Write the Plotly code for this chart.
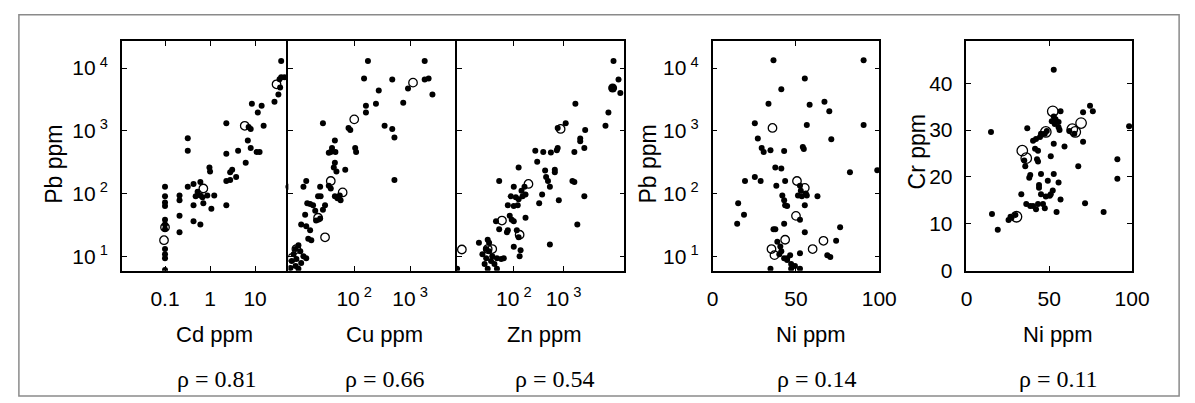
import plotly.graph_objects as go

W, H = 1195, 403

# ---- Pb vs Cd ----
cd_ppm = [38, 38, 45, 35, 36, 33, 27, 8.5, 14, 11.5, 7.2, 8, 15.5, 2.3, 6.9, 4.2, 8, 10.8, 12.6, 6.2,
          0.32, 0.32, 0.97, 1.0, 3.1, 2.8, 2.3, 2.8, 3.8, 0.32, 0.43, 0.61, 0.53, 0.61, 0.48, 0.68, 0.87,
          1.24, 0.43, 0.71, 1.07, 2.3, 0.43, 0.61, 0.21, 0.21, 0.21, 0.21, 0.1, 0.1, 0.1, 0.1, 0.1, 0.1,
          0.1, 0.1, 0.1, 0.1, 0.1, 55, 2.3]
pb_vs_cd = [12900, 7100, 7100, 6600, 4900, 3800, 2900, 2700, 2500, 1950, 1150, 1070, 1200, 1320, 700,
            480, 530, 460, 460, 310, 760, 480, 260, 225, 240, 218, 158, 164, 183, 128, 142, 153, 107, 93,
            90, 87, 93, 93, 65, 70, 57, 65, 36, 32, 93, 78, 44, 24, 128, 90, 72, 63, 38, 32, 27, 13, 10.7,
            9.3, 6, 128, 430]
cd_open = [30, 5.9, 0.71, 0.1, 0.095]
pb_vs_cd_open = [5500, 1200, 120, 29, 18]

# ---- Pb vs Cu ----
cu_ppm = [176, 1830, 150, 480, 1830, 2150, 920, 275, 2520, 162, 162, 245, 755, 79, 85, 27.5, 350, 480,
          525, 104, 108, 45, 40, 38, 35, 46, 45, 43, 48, 69, 525, 35, 38, 13.8, 12.3, 24.5, 22.5, 25, 45,
          50, 55, 57, 30, 27.5, 14.4, 16.2, 18.3, 13.2, 20.7, 24.5, 11.2, 13.8, 16.2, 15, 17, 20,
          10, 8.9, 10.8, 8.2, 12.3, 9.2, 7.6, 11.2, 8.9, 10, 7.2, 13.8]
pb_vs_cu = [12900, 12900, 6800, 6550, 6550, 6800, 4700, 4400, 3800, 2500, 1950, 2700, 2800, 1110, 1030,
            1320, 1200, 1070, 780, 530, 460, 700, 530, 460, 445, 460, 310, 260, 225, 240, 164, 133, 120,
            158, 128, 128, 90, 90, 90, 84, 93, 78, 65, 55, 70, 68, 65, 46, 37, 40, 32, 30, 26, 19, 18, 53,
            15, 13, 12, 10.7, 10, 9, 8.4, 7.8, 7, 6.3, 6.5, 9.3]
cu_open = [1130, 100, 38, 62, 22.5, 30, 9.2, 7.6]
pb_vs_cu_open = [5850, 1520, 158, 104, 41, 20, 13, 9.3]

# ---- Pb vs Zn ----
zn_ppm = [10000, 12600, 13700, 7900, 6900, 1720, 1100, 760, 2700, 2150, 2150, 2600, 1640, 760, 730, 555,
          390, 270, 295, 425, 665, 665, 445, 485, 530, 1500, 1640, 125, 51, 164, 143, 172, 150, 100, 87,
          110, 125, 370, 323, 800, 2600, 76, 100, 120, 83, 172, 44, 51, 91, 100, 76, 73, 115, 125, 100,
          137, 131, 530, 1880, 20, 30, 32,
          28, 32, 23.5, 37, 28, 46, 35, 26, 41, 56, 30, 46, 63, 7.3]
pb_vs_zn = [12900, 6550, 4000, 1950, 1200, 2700, 1320, 1110, 1030, 750, 680, 530, 460, 530, 490, 450,
            460, 480, 320, 232, 240, 218, 183, 158, 128, 158, 153, 260, 158, 128, 111, 96, 90, 128, 90,
            87, 81, 96, 70, 78, 90, 65, 63, 65, 44, 41, 36, 27, 38, 36, 26, 24, 26, 20, 14.2, 12.4, 10,
            15.3, 32, 16.4, 18.3, 16.4,
            13, 12, 10.7, 10, 9.3, 9.3, 8.4, 7.5, 7.5, 9, 6.3, 6.3, 9.3, 6.3]
zn_big = [9600]
pb_vs_zn_big = [4800]
zn_open = [870, 197, 58, 131, 9.1, 30, 37]
pb_vs_zn_open = [1070, 142, 37, 22, 12.8, 13, 13]

# ---- Pb vs Ni ----
ni_ppm = [36.5, 90.6, 55.3, 41.2, 33.5, 58.2, 67.1, 70, 25.3, 56.5, 90.6, 27.1, 71.2, 29.4, 30.6, 34.7,
          42.9, 54.1, 54.7, 37.6, 41.2, 82.4, 98.8, 19.4, 25.3, 28.8, 43.5, 38.2, 52.4, 52.9, 55.9, 51.2,
          53.5, 56.5, 41.8, 42.9, 43.5, 44.7, 62.9, 55.3, 15.3, 18.8, 14.7, 52.4, 42.9, 36.5, 37.6, 55.3,
          76.5, 38.8, 40.6, 41.2, 40, 42.9, 44.7, 74.1, 68.8, 70.6, 46.5, 47.1, 52.4, 34.7, 47.1, 49.4,
          52.4, 44.7]
pb_vs_ni = [13300, 13300, 6800, 4600, 2700, 2600, 2900, 2040, 1320, 1230, 1230, 750, 730, 530, 460, 490,
            475, 550, 510, 260, 250, 218, 235, 158, 183, 158, 158, 133, 133, 111, 100, 93, 90, 93, 93, 78,
            65, 63, 90, 65, 70, 46, 33, 38, 33, 27, 27, 24, 29, 17, 14.3, 12, 10.7, 9.3, 8.7, 17.6, 10.4,
            9.7, 10.4, 7.5, 11.1, 6.3, 6.3, 7.0, 6.3, 9.3]
ni_open = [35.9, 50.6, 55.3, 50, 43.5, 35.3, 37.1, 60, 66.5]
pb_vs_ni_open = [1110, 158, 123, 44, 18.3, 13, 10.4, 13, 17.6]

# ---- Cr vs Ni ----
ni_ppm_cr = [52.7, 14.8, 98.2, 74.6, 76.3, 70.4, 62.1, 65.1, 52.7, 53.8, 51.5, 55.6, 53.3, 56.8, 55.6,
             56.2, 48.5, 47.3, 45, 44.4, 42, 40.2, 36.7, 52.7, 59.2, 70.4, 34.9, 35.5, 41.4, 43.2, 42.6,
             43.2, 50.9, 67.5, 91.1, 91.1, 45, 38.5, 37.9, 52.7, 49.1, 55.6, 43.8, 43.8, 52.1, 50.9, 50.3,
             47.9, 33.1, 45, 36.1, 38.5, 40.2, 43.2, 46.2, 47.3, 42, 56.8, 71.6, 54.4, 82.8, 15.4, 18.9,
             25.4, 27.2, 29.6, 26.6]
cr_ppm = [42.9, 29.6, 30.8, 35.2, 34.0, 33.8, 29.8, 29.2, 32.9, 32.3, 31.9, 31.7, 31.3, 34.0, 30.6, 30,
          29.8, 29.2, 29.2, 28.5, 28.1, 27.7, 30.4, 27.1, 26.5, 27.5, 23.5, 22.3, 26, 25.6, 23.8, 23.3,
          24.4, 22.3, 23.8, 19.6, 20.6, 20.4, 19.8, 20.6, 19.2, 18.8, 18.3, 17.7, 17.1, 16.3, 16, 15.8,
          16.3, 16.3, 14.2, 13.8, 13.8, 14.2, 14.2, 13.3, 13.1, 15.2, 14.4, 12.5, 12.5, 12.1, 8.75, 10.8,
          11.3, 11.9, 11.5]
ni_open_cr = [69.2, 63.9, 65.7, 52.1, 47.9, 33.7, 36.1, 30.2]
cr_open = [31.5, 30.2, 29.6, 34.0, 29.6, 25.6, 24, 11.5]

rho_labels = ["ρ = 0.81", "ρ = 0.66", "ρ = 0.54", "ρ = 0.14", "ρ = 0.11"]
x_titles = ["Cd ppm", "Cu ppm", "Zn ppm", "Ni ppm", "Ni ppm"]
pow_ticks = [10, 100, 1000, 10000]
pow_text = ["10<sup> 1</sup>", "10<sup> 2</sup>", "10<sup> 3</sup>", "10<sup> 4</sup>"]

SANS = "Liberation Sans, Arial, sans-serif"
SERIF = "Liberation Serif, Times New Roman, serif"


def px_x(a, b):
    return [a / W, b / W]


def px_y(top, bottom):
    return [1 - bottom / H, 1 - top / H]


def dots(x, y, xa, ya, size=6):
    return go.Scatter(x=x, y=y, xaxis=xa, yaxis=ya, mode="markers",
                      marker=dict(color="black", size=size, line=dict(width=0)),
                      hoverinfo="skip")


def rings(x, y, xa, ya, size=8.5):
    return go.Scatter(x=x, y=y, xaxis=xa, yaxis=ya, mode="markers",
                      marker=dict(symbol="circle-open", color="black", size=size,
                                  line=dict(width=1.3, color="black")),
                      hoverinfo="skip")


fig = go.Figure()
fig.add_trace(dots(cd_ppm, pb_vs_cd, "x", "y"))
fig.add_trace(rings(cd_open, pb_vs_cd_open, "x", "y"))
fig.add_trace(dots(cu_ppm, pb_vs_cu, "x2", "y2"))
fig.add_trace(rings(cu_open, pb_vs_cu_open, "x2", "y2"))
fig.add_trace(dots(zn_ppm, pb_vs_zn, "x3", "y3"))
fig.add_trace(dots(zn_big, pb_vs_zn_big, "x3", "y3", size=9))
fig.add_trace(rings(zn_open, pb_vs_zn_open, "x3", "y3"))
fig.add_trace(dots(ni_ppm, pb_vs_ni, "x4", "y4"))
fig.add_trace(rings(ni_open, pb_vs_ni_open, "x4", "y4"))
fig.add_trace(dots(ni_ppm_cr, cr_ppm, "x5", "y5"))
fig.add_trace(rings(ni_open_cr, cr_open, "x5", "y5", size=10.5))

axis_style = dict(showline=True, linecolor="black", linewidth=1.5,
                  ticks="inside", ticklen=5, tickwidth=1.3, tickcolor="black",
                  showgrid=False, zeroline=False, ticklabelstandoff=8,
                  tickfont=dict(family=SANS, size=21, color="black"))

y_dom = px_y(34, 270)
x_doms = [px_x(110, 280), px_x(280, 452), px_x(452, 623), px_x(713, 883), px_x(972, 1141)]
pb_range = [0.77, 4.43]

x_specs = [
    dict(type="log", range=[-1.96, 1.74], tickvals=[0.1, 1, 10], ticktext=["0.1", "1", "10"]),
    dict(type="log", range=[0.82, 3.84], tickvals=[100, 1000], ticktext=pow_text[1:3]),
    dict(type="log", range=[0.86, 4.22], tickvals=[100, 1000], ticktext=pow_text[1:3]),
    dict(type="linear", range=[0, 100], tickvals=[0, 50, 100]),
    dict(type="linear", range=[0, 100], tickvals=[0, 50, 100]),
]
# the three joined Pb panels share their inner edges: only the last one mirrors its line
y_specs = [
    dict(type="log", range=pb_range, tickvals=pow_ticks, ticktext=pow_text, mirror=False),
    dict(type="log", range=pb_range, tickvals=pow_ticks, showticklabels=False, mirror=False),
    dict(type="log", range=pb_range, tickvals=pow_ticks, showticklabels=False, mirror="ticks"),
    dict(type="log", range=pb_range, tickvals=pow_ticks, ticktext=pow_text, mirror="ticks"),
    dict(type="linear", range=[0, 49], tickvals=[0, 10, 20, 30, 40], mirror="ticks"),
]

layout_axes = {}
for i in range(5):
    sfx = "" if i == 0 else str(i + 1)
    layout_axes["xaxis" + sfx] = dict(axis_style, domain=x_doms[i], anchor="y" + sfx,
                                      mirror="ticks", **x_specs[i])
    layout_axes["yaxis" + sfx] = dict(axis_style, domain=y_dom, anchor="x" + sfx, **y_specs[i])

fig.update_layout(**layout_axes)

annotations = []
title_x = [205, 378, 541, 813, 1065]
rho_x = [207, 379, 552, 819, 1066]
for i in range(5):
    annotations.append(dict(text=x_titles[i], x=title_x[i] / W, y=1 - 336 / H, xref="paper",
                            yref="paper", showarrow=False, xanchor="center", yanchor="middle",
                            font=dict(family=SANS, size=22, color="black")))
    annotations.append(dict(text=rho_labels[i], x=rho_x[i] / W, y=1 - 381 / H, xref="paper",
                            yref="paper", showarrow=False, xanchor="center", yanchor="middle",
                            font=dict(family=SERIF, size=24, color="black")))
for text, xp, yp in [("Pb ppm", 40, 161), ("Pb ppm", 647, 161), ("Cr ppm", 921, 148)]:
    annotations.append(dict(text=text, x=xp / W, y=1 - yp / H, xref="paper", yref="paper",
                            showarrow=False, textangle=-90, xanchor="center", yanchor="middle",
                            font=dict(family=SANS, size=23, color="black")))

fig.update_layout(
    width=W, height=H,
    margin=dict(l=0, r=0, t=0, b=0),
    paper_bgcolor="white", plot_bgcolor="white",
    showlegend=False,
    annotations=annotations,
    shapes=[dict(type="rect", xref="paper", yref="paper",
                 x0=5 / W, x1=1189 / W, y0=1 - 399 / H, y1=1 - 7 / H,
                 line=dict(color="#8a8a8a", width=1.5))],
)

fig.write_html("out.html")
